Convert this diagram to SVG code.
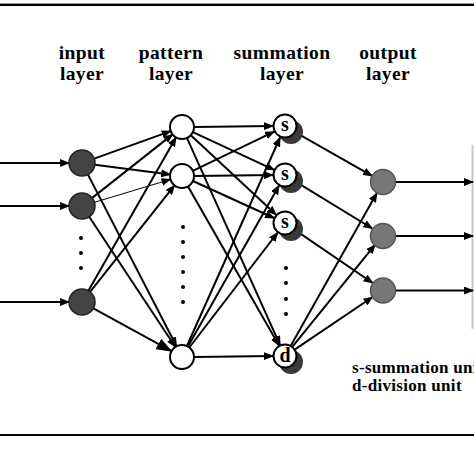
<svg xmlns="http://www.w3.org/2000/svg" width="474" height="474" viewBox="0 0 474 474">
<defs>
<marker id="ah" markerWidth="10" markerHeight="8" refX="9" refY="4" orient="auto" markerUnits="userSpaceOnUse"><path d="M0,0 L10,4 L0,8 Z" fill="#000"/></marker>
<marker id="ahb" markerWidth="16" markerHeight="12" refX="15" refY="6" orient="auto" markerUnits="userSpaceOnUse"><path d="M0,0 L16,6 L0,12 Z" fill="#000"/></marker>
<style>
.ln{stroke:#000;stroke-width:2;fill:none;marker-end:url(#ah)}
.thin{stroke:#000;stroke-width:1;fill:none;marker-end:url(#ah)}
.inp{fill:#444;stroke:#222;stroke-width:1.5}
.pat{fill:#fff;stroke:#000;stroke-width:2}
.sum{fill:#fff;stroke:#000;stroke-width:2}
.shd{fill:#3a3a3a}
.out{fill:#777;stroke:#555;stroke-width:1.5}
.lbl{font-family:"Liberation Serif","Times New Roman",serif;font-weight:bold;font-size:19.5px;letter-spacing:0.4px;text-anchor:middle;fill:#000}
.nt{font-family:"Liberation Serif","Times New Roman",serif;font-weight:bold;font-size:20px;text-anchor:middle;fill:#000}
.leg{font-family:"Liberation Serif","Times New Roman",serif;font-weight:bold;font-size:17px;letter-spacing:0.3px;fill:#000}
.dot{fill:#000}
</style>
</defs>
<rect x="0" y="0" width="474" height="474" fill="#fff"/>
<line x1="0" y1="3.5" x2="474" y2="3.5" stroke="#999" stroke-width="1"/>
<line x1="0" y1="5" x2="474" y2="5" stroke="#000" stroke-width="2"/>
<line x1="0" y1="435" x2="474" y2="435" stroke="#000" stroke-width="2"/>
<line x1="472.5" y1="145" x2="472.5" y2="329" stroke="#c8c8c8" stroke-width="2"/>

<g id="labels">
<text class="lbl" x="82" y="59">input</text>
<text class="lbl" x="82" y="80">layer</text>
<text class="lbl" x="171" y="59">pattern</text>
<text class="lbl" x="171" y="80">layer</text>
<text class="lbl" x="282" y="59">summation</text>
<text class="lbl" x="282" y="80">layer</text>
<text class="lbl" x="388" y="59">output</text>
<text class="lbl" x="388" y="80">layer</text>
<text class="leg" x="352" y="373">s-summation unit</text>
<text class="leg" x="352" y="391">d-division unit</text>
</g>

<g id="connectors">
<line class="ln" x1="0" y1="163" x2="69" y2="163"/>
<line class="ln" x1="0" y1="206" x2="69" y2="206"/>
<line class="ln" x1="0" y1="302" x2="69" y2="302"/>
<line class="ln" x1="94.2" y1="158.6" x2="170.7" y2="131.1"/>
<line class="ln" x1="94.9" y1="164.7" x2="170.1" y2="174.5"/>
<line class="ln" x1="88" y1="174.6" x2="176.5" y2="346.3"/>
<line class="ln" x1="92.2" y1="197.9" x2="172.6" y2="134.4"/>
<line class="thin" x1="94.5" y1="202.3" x2="170.5" y2="179.4"/>
<line class="ln" x1="89.2" y1="216.8" x2="175.4" y2="347"/>
<line class="ln" x1="88.4" y1="290.7" x2="176" y2="137.4"/>
<line class="ln" x1="90.1" y1="291.8" x2="174.5" y2="185.4"/>
<line class="ln" x1="93.4" y1="308.3" x2="171.5" y2="351.2" style="marker-end:url(#ahb)"/>
<line class="ln" x1="194" y1="127" x2="273" y2="126"/>
<line class="ln" x1="192.9" y1="132.1" x2="274.1" y2="169.9"/>
<line class="ln" x1="190.8" y1="135.2" x2="276.2" y2="214.8"/>
<line class="ln" x1="186.9" y1="137.9" x2="280.1" y2="345.1"/>
<line class="ln" x1="192.8" y1="170.9" x2="274.2" y2="131.6"/>
<line class="ln" x1="194" y1="176" x2="273" y2="175.1"/>
<line class="ln" x1="192.9" y1="181" x2="274.1" y2="218"/>
<line class="ln" x1="188" y1="186.4" x2="279" y2="345.6"/>
<line class="ln" x1="186.9" y1="346" x2="280.1" y2="137.5"/>
<line class="ln" x1="187.9" y1="346.6" x2="279.1" y2="185.4"/>
<line class="ln" x1="189.3" y1="347.5" x2="277.7" y2="232.5"/>
<line class="ln" x1="194" y1="357" x2="273" y2="356"/>
<line class="ln" x1="295.5" y1="132.4" x2="372.1" y2="175.9"/>
<line class="ln" x1="295.2" y1="181.3" x2="372.3" y2="228.5"/>
<line class="ln" x1="294.9" y1="229.8" x2="372.7" y2="283"/>
<line class="ln" x1="290.9" y1="345.5" x2="376.9" y2="193"/>
<line class="ln" x1="292.5" y1="346.7" x2="375.1" y2="244.7"/>
<line class="ln" x1="295" y1="349.3" x2="372.6" y2="297"/>
<line class="ln" x1="395.5" y1="182" x2="473" y2="182"/>
<line class="ln" x1="395.5" y1="236" x2="473" y2="236"/>
<line class="ln" x1="395.5" y1="290.5" x2="473" y2="290.5"/>
</g>

<g id="dots">
<circle class="dot" cx="81" cy="238" r="2"/><circle class="dot" cx="81" cy="253" r="2"/><circle class="dot" cx="81" cy="268" r="2"/>
<circle class="dot" cx="183" cy="227" r="2"/><circle class="dot" cx="183" cy="242" r="2"/><circle class="dot" cx="183" cy="257" r="2"/><circle class="dot" cx="183" cy="272" r="2"/><circle class="dot" cx="183" cy="287" r="2"/><circle class="dot" cx="183" cy="302" r="2"/>
<circle class="dot" cx="286" cy="268" r="2"/><circle class="dot" cx="286" cy="283" r="2"/><circle class="dot" cx="286" cy="299" r="2"/><circle class="dot" cx="286" cy="314" r="2"/>
</g>

<g id="input1"><circle class="inp" cx="82" cy="163" r="13"/></g>
<g id="input2"><circle class="inp" cx="82" cy="206" r="13"/></g>
<g id="input3"><circle class="inp" cx="82" cy="302" r="13"/></g>
<g id="pattern1"><circle class="pat" cx="182" cy="127" r="12"/></g>
<g id="pattern2"><circle class="pat" cx="182" cy="176" r="12"/></g>
<g id="pattern3"><circle class="pat" cx="182" cy="357" r="12"/></g>
<g id="sum1"><circle class="shd" cx="291" cy="132" r="12"/><circle class="sum" cx="285" cy="126" r="11.5"/><text class="nt" x="285" y="130.5">s</text></g>
<g id="sum2"><circle class="shd" cx="291" cy="181" r="12"/><circle class="sum" cx="285" cy="175" r="11.5"/><text class="nt" x="285" y="179.5">s</text></g>
<g id="sum3"><circle class="shd" cx="291" cy="229" r="12"/><circle class="sum" cx="285" cy="223" r="11.5"/><text class="nt" x="285" y="227.5">s</text></g>
<g id="div"><circle class="shd" cx="291" cy="362" r="12"/><circle class="sum" cx="285" cy="356" r="11.5"/><text class="nt" x="285" y="362">d</text></g>
<g id="output1"><circle class="out" cx="383" cy="182" r="12.5"/></g>
<g id="output2"><circle class="out" cx="383" cy="236" r="12.5"/></g>
<g id="output3"><circle class="out" cx="383" cy="290.5" r="12.5"/></g>
</svg>
